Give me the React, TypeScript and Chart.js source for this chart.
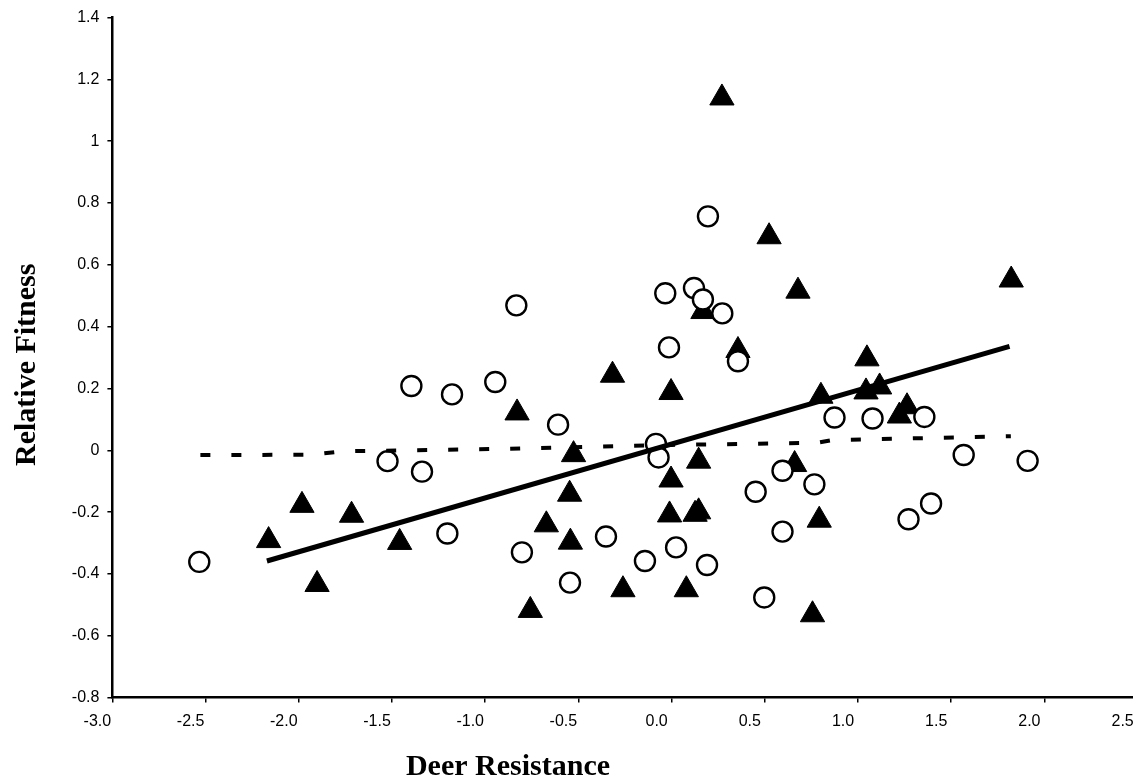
import React, { useEffect, useRef } from 'react';
import { Chart, registerables } from 'chart.js';

Chart.register(...registerables);

// Open circles
const circleX = [-2.534, -1.396, -1.178, -0.946, -1.524, -1.339, -1.203, -0.833, -0.609, -0.803, -0.545, -0.352, -0.143, 0.024, 0.190, -0.084, -0.070, -0.034, -0.014, 0.120, 0.168, 0.272, 0.195, 0.356, 0.595, 0.766, 0.451, 0.595, 0.497, 0.874, 1.078, 1.356, 1.567, 1.910, 1.392, 1.271];
const circleY = [-0.361, 0.208, 0.181, 0.221, -0.035, -0.069, -0.269, 0.469, 0.083, -0.330, -0.428, -0.279, -0.358, -0.314, -0.371, 0.021, -0.023, 0.508, 0.333, 0.525, 0.488, 0.443, 0.757, 0.288, -0.066, -0.110, -0.134, -0.263, -0.476, 0.106, 0.103, 0.108, -0.015, -0.034, -0.172, -0.223];

// Filled triangles
const triangleX = [-2.162, -1.983, -1.717, -1.902, -1.459, -0.829, -0.758, -0.672, -0.547, -0.543, -0.526, -0.317, -0.261, -0.003, -0.003, -0.011, 0.126, 0.145, 0.145, 0.079, 0.168, 0.356, 0.270, 0.523, 0.678, 0.660, 0.792, 0.756, 0.801, 1.048, 1.043, 1.116, 1.263, 1.222, 1.822];
const triangleY = [-0.292, -0.178, -0.210, -0.434, -0.298, 0.121, -0.518, -0.241, -0.142, -0.297, -0.014, 0.243, -0.451, 0.187, -0.096, -0.209, -0.207, -0.199, -0.035, -0.451, 0.449, 0.323, 1.140, 0.691, 0.515, -0.046, -0.226, -0.532, 0.175, 0.296, 0.189, 0.205, 0.141, 0.111, 0.551];

// Solid regression line
const fitLineX = [-2.171, 1.813];
const fitLineY = [-0.358, 0.336];

// Dashed line
const dashLineX = [-2.528, -1.93, -1.77, -0.98, 0.0, 0.78, 0.86, 1.82];
const dashLineY = [-0.0155, -0.0142, -0.0032, 0.0039, 0.0175, 0.0242, 0.0329, 0.0458];

const xTickLabels = ['-3.0', '-2.5', '-2.0', '-1.5', '-1.0', '-0.5', '0.0', '0.5', '1.0', '1.5', '2.0', '2.5'];
const yTickLabels = ['-0.8', '-0.6', '-0.4', '-0.2', '0', '0.2', '0.4', '0.6', '0.8', '1', '1.2', '1.4'];

const xTitle = 'Deer Resistance';
const yTitle = 'Relative Fitness';

const pts = (xs: number[], ys: number[]) => xs.map((x, i) => ({ x, y: ys[i] }));

const titlePlugin = {
  id: 'axisTitles',
  afterDraw(chart: any) {
    const ctx = chart.ctx;
    ctx.save();
    ctx.fillStyle = '#000';
    ctx.font = 'bold 30px "Liberation Serif", "Times New Roman", serif';
    ctx.textAlign = 'center';
    ctx.textBaseline = 'alphabetic';
    ctx.fillText(xTitle, 508, 775);
    ctx.translate(35, 466);
    ctx.rotate(-Math.PI / 2);
    ctx.textAlign = 'left';
    ctx.fillText(yTitle, 0, 0);
    ctx.restore();
  },
};

export default function App() {
  const ref = useRef<HTMLCanvasElement | null>(null);
  useEffect(() => {
    if (!ref.current) return;
    const tickFont = { family: '"Liberation Sans", Arial, sans-serif', size: 16 };
    const chart = new Chart(ref.current, {
      type: 'scatter',
      data: {
        datasets: [
          {
            label: 'fit',
            data: pts(fitLineX, fitLineY),
            showLine: true,
            borderColor: '#000',
            borderWidth: 5,
            pointRadius: 0,
            borderCapStyle: 'butt',
          },
          {
            label: 'dashed',
            data: pts(dashLineX, dashLineY),
            showLine: true,
            borderColor: '#000',
            borderWidth: 4,
            borderDash: [10, 21],
            pointRadius: 0,
          },
          {
            label: 'circles',
            data: pts(circleX, circleY),
            pointStyle: 'circle',
            pointRadius: 10,
            borderWidth: 2.4,
            borderColor: '#000',
            backgroundColor: '#fff',
          },
          {
            label: 'triangles',
            data: pts(triangleX, triangleY),
            pointStyle: 'triangle',
            pointRadius: 14,
            borderWidth: 1,
            borderColor: '#000',
            backgroundColor: '#000',
          },
        ] as any,
      },
      options: {
        responsive: false,
        animation: false,
        devicePixelRatio: 1,
        events: [],
        layout: { padding: { left: 0, right: 22.4, top: 16, bottom: 0 } },
        plugins: { legend: { display: false }, tooltip: { enabled: false } },
        scales: {
          x: {
            type: 'linear',
            min: -3,
            max: 2.5,
            ticks: {
              stepSize: 0.5,
              autoSkip: false,
              maxRotation: 0,
              color: '#000',
              font: tickFont,
              padding: 9,
              labelOffset: -15,
              callback: (_v: any, i: number) => xTickLabels[i],
            },
            grid: { drawOnChartArea: false, drawTicks: true, tickLength: 5, color: '#000', lineWidth: 1.5 },
            border: { display: true, color: '#000', width: 2.5 },
            afterFit: (s: any) => {
              s.height = 82.4;
            },
          },
          y: {
            type: 'linear',
            min: -0.8,
            max: 1.4,
            ticks: {
              stepSize: 0.2,
              autoSkip: false,
              color: '#000',
              font: tickFont,
              padding: 8,
              callback: (_v: any, i: number) => yTickLabels[i],
            },
            grid: { drawOnChartArea: false, drawTicks: true, tickLength: 5, color: '#000', lineWidth: 1.5 },
            border: { display: true, color: '#000', width: 2.5 },
            afterFit: (s: any) => {
              s.width = 112.4;
            },
          },
        },
      } as any,
      plugins: [titlePlugin],
    });
    return () => chart.destroy();
  }, []);

  return (
    <div style={{ position: 'absolute', left: 0, top: 0, width: 1133, height: 780, overflow: 'hidden', background: '#fff' }}>
      <canvas ref={ref} width={1160} height={780} style={{ display: 'block' }} />
    </div>
  );
}
